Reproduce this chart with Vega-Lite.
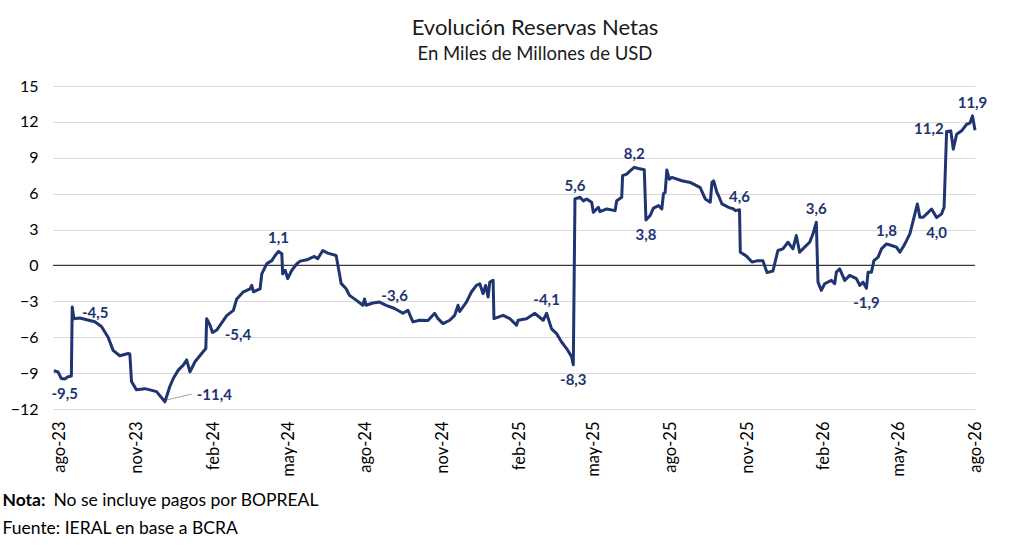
{
  "$schema": "https://vega.github.io/schema/vega-lite/v6.json",
  "width": 922,
  "height": 323,
  "autosize": {"type": "none"},
  "padding": {"left": 53, "top": 86, "right": 49, "bottom": 143},
  "background": "white",
  "config": {
    "view": {"stroke": null},
    "font": "Lato",
    "text": {"font": "Lato"}
  },
  "title": {
    "text": "Evolución Reservas Netas",
    "subtitle": "En Miles de Millones de USD",
    "anchor": "middle",
    "frame": "group",
    "font": "Lato",
    "fontSize": 22,
    "fontWeight": "normal",
    "color": "#1a1a1a",
    "subtitleFont": "Lato",
    "subtitleFontSize": 18.5,
    "subtitleColor": "#1a1a1a",
    "subtitlePadding": 5,
    "offset": 14,
    "dx": 21
  },
  "datasets": {
    "serie": [
      {"d": "2023-07-25", "v": -8.8},
      {"d": "2023-07-30", "v": -8.9},
      {"d": "2023-08-03", "v": -9.45},
      {"d": "2023-08-07", "v": -9.5},
      {"d": "2023-08-11", "v": -9.3},
      {"d": "2023-08-15", "v": -9.25},
      {"d": "2023-08-16", "v": -3.47},
      {"d": "2023-08-18", "v": -4.45},
      {"d": "2023-08-25", "v": -4.4},
      {"d": "2023-09-06", "v": -4.6},
      {"d": "2023-09-12", "v": -4.7},
      {"d": "2023-09-20", "v": -5.1},
      {"d": "2023-09-28", "v": -6.0},
      {"d": "2023-10-04", "v": -7.1},
      {"d": "2023-10-12", "v": -7.55},
      {"d": "2023-10-22", "v": -7.36},
      {"d": "2023-10-24", "v": -7.4},
      {"d": "2023-10-26", "v": -9.7},
      {"d": "2023-11-01", "v": -10.4},
      {"d": "2023-11-11", "v": -10.3},
      {"d": "2023-11-17", "v": -10.4},
      {"d": "2023-11-25", "v": -10.55},
      {"d": "2023-12-05", "v": -11.4},
      {"d": "2023-12-11", "v": -10.1},
      {"d": "2023-12-15", "v": -9.45},
      {"d": "2023-12-21", "v": -8.75},
      {"d": "2023-12-27", "v": -8.33},
      {"d": "2023-12-31", "v": -7.9},
      {"d": "2024-01-04", "v": -8.9},
      {"d": "2024-01-10", "v": -8.05},
      {"d": "2024-01-18", "v": -7.36},
      {"d": "2024-01-23", "v": -6.95},
      {"d": "2024-01-24", "v": -4.45},
      {"d": "2024-01-28", "v": -5.0},
      {"d": "2024-01-31", "v": -5.6},
      {"d": "2024-02-05", "v": -5.4},
      {"d": "2024-02-11", "v": -4.8},
      {"d": "2024-02-17", "v": -4.2},
      {"d": "2024-02-25", "v": -3.75},
      {"d": "2024-02-29", "v": -2.8},
      {"d": "2024-03-08", "v": -2.2},
      {"d": "2024-03-16", "v": -1.95},
      {"d": "2024-03-18", "v": -1.67},
      {"d": "2024-03-20", "v": -2.2},
      {"d": "2024-03-28", "v": -1.95},
      {"d": "2024-03-30", "v": -0.7},
      {"d": "2024-04-05", "v": 0.15},
      {"d": "2024-04-11", "v": 0.4},
      {"d": "2024-04-15", "v": 0.83},
      {"d": "2024-04-19", "v": 1.17},
      {"d": "2024-04-23", "v": 0.97},
      {"d": "2024-04-24", "v": -0.7},
      {"d": "2024-04-27", "v": -0.4},
      {"d": "2024-04-30", "v": -1.1},
      {"d": "2024-05-05", "v": -0.4},
      {"d": "2024-05-11", "v": 0.14},
      {"d": "2024-05-15", "v": 0.36},
      {"d": "2024-05-23", "v": 0.47},
      {"d": "2024-06-01", "v": 0.75},
      {"d": "2024-06-05", "v": 0.56},
      {"d": "2024-06-11", "v": 1.25},
      {"d": "2024-06-17", "v": 1.03},
      {"d": "2024-06-27", "v": 0.83},
      {"d": "2024-07-01", "v": -0.7},
      {"d": "2024-07-03", "v": -1.5},
      {"d": "2024-07-09", "v": -1.95},
      {"d": "2024-07-13", "v": -2.5},
      {"d": "2024-07-21", "v": -2.9},
      {"d": "2024-07-29", "v": -3.33},
      {"d": "2024-07-31", "v": -2.8},
      {"d": "2024-08-02", "v": -3.33},
      {"d": "2024-08-10", "v": -3.14},
      {"d": "2024-08-18", "v": -3.06},
      {"d": "2024-08-26", "v": -3.33},
      {"d": "2024-09-05", "v": -3.6},
      {"d": "2024-09-15", "v": -4.0},
      {"d": "2024-09-21", "v": -3.75},
      {"d": "2024-09-27", "v": -4.72},
      {"d": "2024-10-05", "v": -4.58},
      {"d": "2024-10-15", "v": -4.6},
      {"d": "2024-10-23", "v": -4.0},
      {"d": "2024-10-27", "v": -4.45},
      {"d": "2024-11-02", "v": -4.86},
      {"d": "2024-11-10", "v": -4.58},
      {"d": "2024-11-16", "v": -4.17},
      {"d": "2024-11-20", "v": -3.33},
      {"d": "2024-11-22", "v": -3.85},
      {"d": "2024-11-30", "v": -3.06},
      {"d": "2024-12-06", "v": -2.22},
      {"d": "2024-12-12", "v": -1.67},
      {"d": "2024-12-16", "v": -1.53},
      {"d": "2024-12-20", "v": -2.36},
      {"d": "2024-12-23", "v": -1.67},
      {"d": "2024-12-26", "v": -2.64},
      {"d": "2024-12-28", "v": -1.4},
      {"d": "2025-01-01", "v": -1.25},
      {"d": "2025-01-02", "v": -4.45},
      {"d": "2025-01-13", "v": -4.17},
      {"d": "2025-01-21", "v": -4.45},
      {"d": "2025-01-29", "v": -5.0},
      {"d": "2025-01-31", "v": -4.58},
      {"d": "2025-02-10", "v": -4.45},
      {"d": "2025-02-20", "v": -4.0},
      {"d": "2025-03-02", "v": -4.58},
      {"d": "2025-03-06", "v": -4.0},
      {"d": "2025-03-12", "v": -5.3},
      {"d": "2025-03-18", "v": -5.7},
      {"d": "2025-03-24", "v": -6.4},
      {"d": "2025-03-30", "v": -6.95},
      {"d": "2025-04-05", "v": -7.64},
      {"d": "2025-04-07", "v": -8.3},
      {"d": "2025-04-09", "v": 5.56},
      {"d": "2025-04-15", "v": 5.7},
      {"d": "2025-04-19", "v": 5.4},
      {"d": "2025-04-23", "v": 5.56},
      {"d": "2025-04-29", "v": 5.28},
      {"d": "2025-05-01", "v": 4.44},
      {"d": "2025-05-07", "v": 4.86},
      {"d": "2025-05-09", "v": 4.5},
      {"d": "2025-05-17", "v": 4.72},
      {"d": "2025-05-27", "v": 4.58},
      {"d": "2025-05-29", "v": 5.4},
      {"d": "2025-06-04", "v": 5.7},
      {"d": "2025-06-05", "v": 7.5},
      {"d": "2025-06-10", "v": 7.64},
      {"d": "2025-06-14", "v": 7.9},
      {"d": "2025-06-19", "v": 8.2},
      {"d": "2025-06-24", "v": 8.1},
      {"d": "2025-07-01", "v": 8.0},
      {"d": "2025-07-03", "v": 3.8},
      {"d": "2025-07-08", "v": 4.17},
      {"d": "2025-07-12", "v": 4.8},
      {"d": "2025-07-18", "v": 5.0},
      {"d": "2025-07-22", "v": 4.72},
      {"d": "2025-07-24", "v": 6.0},
      {"d": "2025-07-26", "v": 6.1},
      {"d": "2025-07-28", "v": 7.97},
      {"d": "2025-07-31", "v": 7.2},
      {"d": "2025-08-03", "v": 7.36},
      {"d": "2025-08-15", "v": 7.08},
      {"d": "2025-08-25", "v": 6.94},
      {"d": "2025-08-29", "v": 6.8},
      {"d": "2025-09-06", "v": 6.5},
      {"d": "2025-09-12", "v": 5.56},
      {"d": "2025-09-18", "v": 5.28},
      {"d": "2025-09-20", "v": 6.94},
      {"d": "2025-09-22", "v": 7.08},
      {"d": "2025-09-26", "v": 6.1},
      {"d": "2025-09-28", "v": 5.83},
      {"d": "2025-10-02", "v": 5.14},
      {"d": "2025-10-10", "v": 4.86},
      {"d": "2025-10-16", "v": 4.72},
      {"d": "2025-10-18", "v": 4.58},
      {"d": "2025-10-23", "v": 4.65},
      {"d": "2025-10-24", "v": 1.1},
      {"d": "2025-10-31", "v": 0.8},
      {"d": "2025-11-07", "v": 0.28},
      {"d": "2025-11-14", "v": 0.4},
      {"d": "2025-11-20", "v": 0.4},
      {"d": "2025-11-25", "v": -0.6},
      {"d": "2025-12-02", "v": -0.47},
      {"d": "2025-12-08", "v": 1.25},
      {"d": "2025-12-14", "v": 1.39},
      {"d": "2025-12-20", "v": 1.94},
      {"d": "2025-12-26", "v": 1.39},
      {"d": "2025-12-30", "v": 2.5},
      {"d": "2026-01-03", "v": 1.1},
      {"d": "2026-01-09", "v": 1.53},
      {"d": "2026-01-15", "v": 1.94},
      {"d": "2026-01-19", "v": 2.64},
      {"d": "2026-01-23", "v": 3.6},
      {"d": "2026-01-25", "v": -1.39},
      {"d": "2026-01-29", "v": -2.08},
      {"d": "2026-02-02", "v": -1.53},
      {"d": "2026-02-10", "v": -1.25},
      {"d": "2026-02-14", "v": -1.53},
      {"d": "2026-02-16", "v": -0.56},
      {"d": "2026-02-20", "v": -0.28},
      {"d": "2026-02-26", "v": -1.25},
      {"d": "2026-03-04", "v": -0.83},
      {"d": "2026-03-12", "v": -1.1},
      {"d": "2026-03-16", "v": -1.67},
      {"d": "2026-03-20", "v": -1.4},
      {"d": "2026-03-24", "v": -1.9},
      {"d": "2026-03-26", "v": -0.56},
      {"d": "2026-03-30", "v": -0.56},
      {"d": "2026-04-02", "v": 0.4},
      {"d": "2026-04-07", "v": 0.7},
      {"d": "2026-04-11", "v": 1.39},
      {"d": "2026-04-17", "v": 1.8},
      {"d": "2026-04-23", "v": 1.67},
      {"d": "2026-04-29", "v": 1.53},
      {"d": "2026-05-03", "v": 1.1},
      {"d": "2026-05-08", "v": 1.67},
      {"d": "2026-05-11", "v": 2.08},
      {"d": "2026-05-15", "v": 2.64},
      {"d": "2026-05-19", "v": 3.75},
      {"d": "2026-05-24", "v": 5.14},
      {"d": "2026-05-27", "v": 4.03},
      {"d": "2026-05-31", "v": 4.03},
      {"d": "2026-06-06", "v": 4.44},
      {"d": "2026-06-10", "v": 4.72},
      {"d": "2026-06-16", "v": 4.0},
      {"d": "2026-06-22", "v": 4.31},
      {"d": "2026-06-25", "v": 4.86},
      {"d": "2026-06-28", "v": 11.2},
      {"d": "2026-07-03", "v": 11.25},
      {"d": "2026-07-06", "v": 9.72},
      {"d": "2026-07-10", "v": 10.97},
      {"d": "2026-07-16", "v": 11.25},
      {"d": "2026-07-22", "v": 11.8},
      {"d": "2026-07-26", "v": 11.9},
      {"d": "2026-07-29", "v": 12.5},
      {"d": "2026-08-01", "v": 11.3}
    ],
    "cero": [
      {"v": 0}
    ],
    "etiquetasArriba": [
      {"d": "2024-04-19", "v": 1.17, "t": "1,1"},
      {"d": "2024-09-05", "v": -3.6, "t": "-3,6"},
      {"d": "2025-03-06", "v": -4.0, "t": "-4,1"},
      {"d": "2025-04-09", "v": 5.56, "t": "5,6"},
      {"d": "2025-06-19", "v": 8.2, "t": "8,2"},
      {"d": "2025-10-23", "v": 4.65, "t": "4,6"},
      {"d": "2026-01-23", "v": 3.6, "t": "3,6"},
      {"d": "2026-04-17", "v": 1.8, "t": "1,8"},
      {"d": "2026-07-29", "v": 12.5, "t": "11,9"}
    ],
    "etiquetasAbajo": [
      {"d": "2023-08-07", "v": -9.5, "t": "-9,5"},
      {"d": "2025-04-07", "v": -8.3, "t": "-8,3"},
      {"d": "2025-07-03", "v": 3.8, "t": "3,8"},
      {"d": "2026-03-24", "v": -1.9, "t": "-1,9"},
      {"d": "2026-06-16", "v": 4.0, "t": "4,0"}
    ],
    "etiquetasDerechaArriba": [
      {"d": "2023-08-18", "v": -4.45, "t": "-4,5"}
    ],
    "etiquetasDerechaAbajo": [
      {"d": "2024-02-05", "v": -5.4, "t": "-5,4"}
    ],
    "etiquetasIzquierda": [
      {"d": "2026-06-28", "v": 11.2, "t": "11,2"}
    ],
    "guia": [
      {"d": "2023-12-07", "v": -11.25, "d2": "2024-01-06", "v2": -10.75, "t": "-11,4"}
    ]
  },
  "resolve": {"axis": {"x": "independent"}},
  "layer": [
    {
      "data": {"name": "serie"},
      "mark": {"type": "line", "color": "#1F3470", "strokeWidth": 3, "opacity": 0},
      "encoding": {
        "x": {
          "field": "d",
          "type": "temporal",
          "scale": {"domain": [{"year": 2023, "month": 7, "date": 24}, {"year": 2026, "month": 8, "date": 1}], "nice": false},
          "axis": {
            "orient": "bottom",
            "values": [
              {"year": 2023, "month": 8, "date": 1},
              {"year": 2023, "month": 11, "date": 1},
              {"year": 2024, "month": 2, "date": 1},
              {"year": 2024, "month": 5, "date": 1},
              {"year": 2024, "month": 8, "date": 1},
              {"year": 2024, "month": 11, "date": 1},
              {"year": 2025, "month": 2, "date": 1},
              {"year": 2025, "month": 5, "date": 1},
              {"year": 2025, "month": 8, "date": 1},
              {"year": 2025, "month": 11, "date": 1},
              {"year": 2026, "month": 2, "date": 1},
              {"year": 2026, "month": 5, "date": 1},
              {"year": 2026, "month": 8, "date": 1}
            ],
            "tickCount": 40,
            "labelExpr": "['ene','feb','mar','abr','may','jun','jul','ago','sep','oct','nov','dic'][month(datum.value)] + '-' + timeFormat(datum.value, '%y')",
            "labelAngle": 270,
            "labelAlign": "right",
            "labelBaseline": "middle",
            "labelFont": "Lato",
            "labelFontSize": 16.5,
            "labelColor": "#000000",
            "labelPadding": 12,
            "labelOverlap": false,
            "labelFlush": false,
            "ticks": false,
            "domain": false,
            "grid": false,
            "title": "Fuente: IERAL en base a BCRA",
            "titleFont": "Lato",
            "titleFontSize": 17.5,
            "titleFontWeight": "normal",
            "titleColor": "#000000",
            "titleAnchor": "start",
            "titleAlign": "left",
            "titleAngle": 0,
            "titleBaseline": "middle",
            "titleX": -51,
            "titleY": 119
          }
        },
        "y": {
          "field": "v",
          "type": "quantitative",
          "scale": {"domain": [-12, 15], "nice": false, "zero": false},
          "axis": {
            "values": [-12, -9, -6, -3, 0, 3, 6, 9, 12, 15],
            "tickCount": 20,
            "title": null,
            "grid": true,
            "gridColor": "#d9d9d9",
            "gridWidth": 1,
            "ticks": false,
            "domain": false,
            "labelOverlap": false,
            "labelFont": "Lato",
            "labelFontSize": 16,
            "labelColor": "#000000",
            "labelPadding": 15
          }
        }
      }
    },
    {
      "data": {"name": "cero"},
      "mark": {"type": "rule", "color": "#3a3a3a", "strokeWidth": 1.3},
      "encoding": {"y": {"field": "v", "type": "quantitative"}}
    },
    {
      "data": {"name": "guia"},
      "mark": {"type": "rule", "color": "#a6a6a6", "strokeWidth": 1},
      "encoding": {
        "x": {"field": "d", "type": "temporal", "axis": null},
        "x2": {"field": "d2"},
        "y": {"field": "v", "type": "quantitative"},
        "y2": {"field": "v2"}
      }
    },
    {
      "data": {"name": "serie"},
      "mark": {"type": "line", "color": "#1F3470", "strokeWidth": 3, "strokeJoin": "round"},
      "encoding": {
        "x": {"field": "d", "type": "temporal", "axis": null},
        "y": {"field": "v", "type": "quantitative"}
      }
    },
    {
      "data": {"name": "etiquetasArriba"},
      "mark": {"type": "text", "font": "Lato", "fontSize": 15, "fontWeight": "bold", "color": "#1F3470", "align": "center", "baseline": "middle", "dy": -13},
      "encoding": {
        "x": {
          "field": "d",
          "type": "temporal",
          "axis": {
            "orient": "bottom",
            "labels": false,
            "ticks": false,
            "domain": false,
            "grid": false,
            "title": "Nota:",
            "titleFont": "Lato",
            "titleFontSize": 17.5,
            "titleFontWeight": "bold",
            "titleColor": "#000000",
            "titleAnchor": "start",
            "titleAlign": "left",
            "titleAngle": 0,
            "titleBaseline": "middle",
            "titleX": -51,
            "titleY": 91
          }
        },
        "y": {"field": "v", "type": "quantitative"},
        "text": {"field": "t"}
      }
    },
    {
      "data": {"name": "etiquetasAbajo"},
      "mark": {"type": "text", "font": "Lato", "fontSize": 15, "fontWeight": "bold", "color": "#1F3470", "align": "center", "baseline": "middle", "dy": 15},
      "encoding": {
        "x": {
          "field": "d",
          "type": "temporal",
          "axis": {
            "orient": "bottom",
            "labels": false,
            "ticks": false,
            "domain": false,
            "grid": false,
            "title": "No se incluye pagos por BOPREAL",
            "titleFont": "Lato",
            "titleFontSize": 17.5,
            "titleFontWeight": "normal",
            "titleColor": "#000000",
            "titleAnchor": "start",
            "titleAlign": "left",
            "titleAngle": 0,
            "titleBaseline": "middle",
            "titleX": 0,
            "titleY": 91
          }
        },
        "y": {"field": "v", "type": "quantitative"},
        "text": {"field": "t"}
      }
    },
    {
      "data": {"name": "etiquetasDerechaArriba"},
      "mark": {"type": "text", "font": "Lato", "fontSize": 15, "fontWeight": "bold", "color": "#1F3470", "align": "left", "baseline": "middle", "dx": 8, "dy": -6},
      "encoding": {
        "x": {"field": "d", "type": "temporal", "axis": null},
        "y": {"field": "v", "type": "quantitative"},
        "text": {"field": "t"}
      }
    },
    {
      "data": {"name": "etiquetasDerechaAbajo"},
      "mark": {"type": "text", "font": "Lato", "fontSize": 15, "fontWeight": "bold", "color": "#1F3470", "align": "left", "baseline": "middle", "dx": 8, "dy": 5},
      "encoding": {
        "x": {"field": "d", "type": "temporal", "axis": null},
        "y": {"field": "v", "type": "quantitative"},
        "text": {"field": "t"}
      }
    },
    {
      "data": {"name": "etiquetasIzquierda"},
      "mark": {"type": "text", "font": "Lato", "fontSize": 15, "fontWeight": "bold", "color": "#1F3470", "align": "right", "baseline": "middle", "dx": -3, "dy": -2},
      "encoding": {
        "x": {"field": "d", "type": "temporal", "axis": null},
        "y": {"field": "v", "type": "quantitative"},
        "text": {"field": "t"}
      }
    },
    {
      "data": {"name": "guia"},
      "mark": {"type": "text", "font": "Lato", "fontSize": 15, "fontWeight": "bold", "color": "#1F3470", "align": "left", "baseline": "middle", "dx": 5, "dy": 1},
      "encoding": {
        "x": {"field": "d2", "type": "temporal", "axis": null},
        "y": {"field": "v2", "type": "quantitative"},
        "text": {"field": "t"}
      }
    }
  ]
}
